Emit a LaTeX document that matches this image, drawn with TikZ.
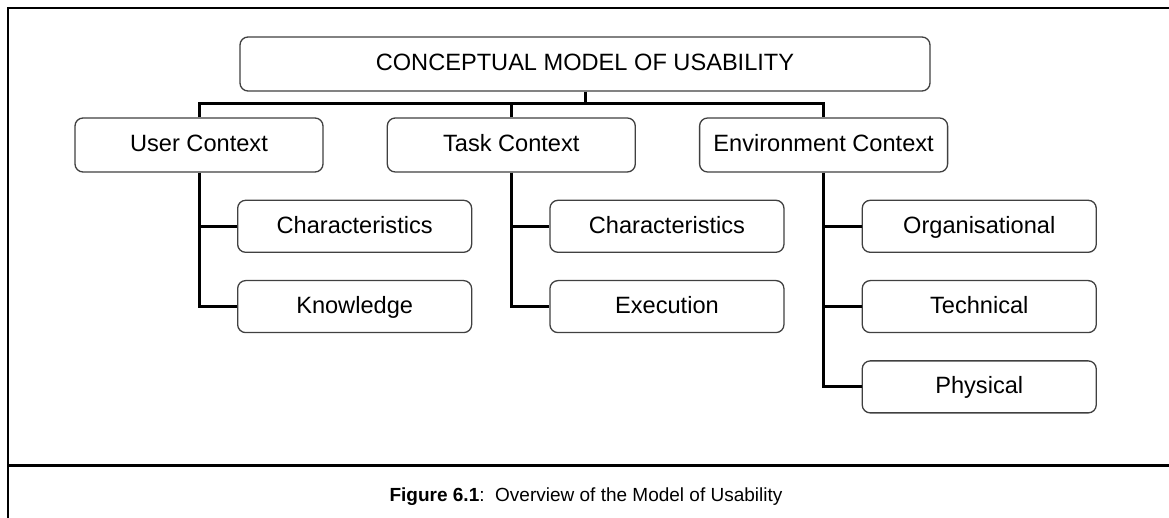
\documentclass[tikz,border=0pt]{standalone}
\usepackage{fontspec}
\setmainfont{Liberation Sans}
\usetikzlibrary{positioning}

\begin{document}
\begin{tikzpicture}[
    x = 0.5pt, y = -0.5pt, % one unit is one pixel of the page
    node distance = 13.5pt and 31.5pt, % gap between boxes
    font = \fontsize{11.8}{14}\selectfont
    ]

    \tikzset{box/.style={
    draw = black!75,
    line width = 0.65pt,
    rounded corners = 4pt,
    fill = white,
    inner sep = 0pt,
    text height = 9pt,
    text depth = 2pt,
    minimum width = 124pt,
    minimum height = 27pt
    }}
    \tikzset{item/.style={box, minimum width = 117pt, minimum height = 26pt}}
    \tikzset{link/.style={line width = 1.5pt}}
    \tikzset{frame/.style={line width = 1.3pt}}

    \useasboundingbox (0,0) rectangle (1169,518);

    % frame and caption row
    \coordinate (fr) at (8,8);
    \coordinate (cap) at (8,465.5);
    \draw[frame] (1169,8) -- (fr) -- (8,518);
    \draw[frame] (cap) -- (cap -| 1169,0);
    \node (caption) at (586,497) {\fontsize{9.5}{12}\selectfont\textbf{Figure 6.1}:\ \ Overview of the Model of Usability};

    \node[box, minimum width = 345pt] (model) at (585,64) {CONCEPTUAL MODEL OF USABILITY};

    \node[box] (user) at (199,145) {User Context};
    \node[box] (task) [right=of user] {Task Context};
    \node[box] (env) [right=of task] {Environment Context};

    \node[item] (uchar) [below right=13.5pt and 19pt of user.south] {Characteristics};
    \node[item] (uknow) [below=of uchar] {Knowledge};
    \node[item] (tchar) [below right=13.5pt and 19pt of task.south] {Characteristics};
    \node[item] (texec) [below=of tchar] {Execution};
    \node[item] (eorg) [below right=13.5pt and 19pt of env.south] {Organisational};
    \node[item] (etech) [below=of eorg] {Technical};
    \node[item] (ephys) [below=of etech] {Physical};

    % bus under the top box
    \coordinate (bus) at (0,104);
    \draw[link] (model.south) -- (model.south |- bus);
    \draw[link] (user.north) |- (env.north |- bus) -- (env.north);
    \draw[link] (task.north) -- (task.north |- bus);

    % branches to the items
    \draw[link] (user.south) |- (uknow.west);
    \draw[link] (user.south |- uchar.west) -- (uchar.west);
    \draw[link] (task.south) |- (texec.west);
    \draw[link] (task.south |- tchar.west) -- (tchar.west);
    \draw[link] (env.south) |- (ephys.west);
    \draw[link] (env.south |- eorg.west) -- (eorg.west);
    \draw[link] (env.south |- etech.west) -- (etech.west);
\end{tikzpicture}
\end{document}
